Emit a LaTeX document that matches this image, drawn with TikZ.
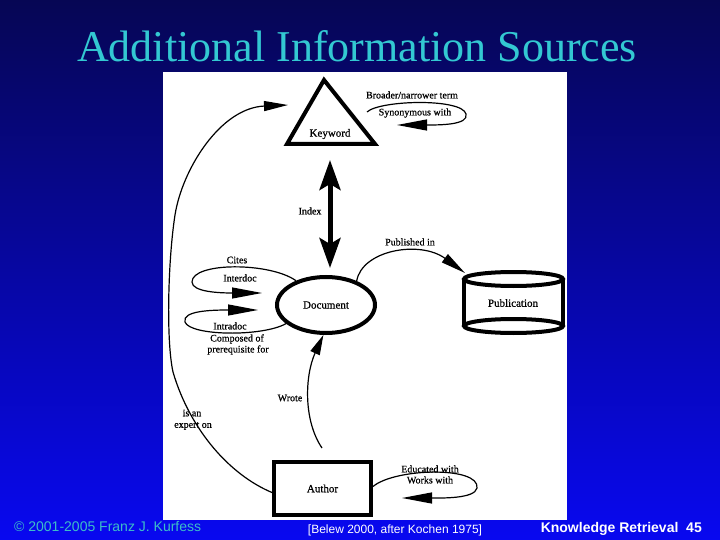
\documentclass[tikz,border=0pt]{standalone}
\usepackage{fontspec}
\setmainfont{Liberation Serif}
\newfontfamily\sansf{Liberation Sans}
\newfontfamily\lblf{Liberation Serif}[FakeBold=0.6]
\usetikzlibrary{arrows.meta,shapes.geometric}
\definecolor{bgtop}{RGB}{6,6,84}
\definecolor{bgbot}{RGB}{8,8,240}
\definecolor{titlecol}{RGB}{51,200,210}
\definecolor{copycol}{RGB}{60,190,200}
\begin{document}
\begin{tikzpicture}[x=1pt,y=-1pt,
  elbl/.style={font=\lblf\fontsize{10}{12}\selectfont, inner sep=0pt, text=black},
  nlbl/.style={font=\lblf\fontsize{11}{13}\selectfont, inner sep=0pt},
  conn/.style={line width=1.2pt, draw=black},
  heavy/.style={line width=4pt, draw=black},
  bigtip/.style={-{Triangle[length=30pt,width=11pt]}}
]
\useasboundingbox (0,0) rectangle (720,540);
\shade[top color=bgtop, bottom color=bgbot] (0,0) rectangle (720,540);
\fill[white] (163,72) rectangle (567,520);

% title
\node[anchor=base, text=titlecol, font=\fontsize{44}{50}\selectfont, inner sep=0pt] (title) at (357,62) {Additional Information Sources};

% keyword triangle
\draw[heavy, line join=miter] (324,80) -- (375,144) -- (287,144) -- cycle;
\node[nlbl] (keyword) at (330,134) {Keyword};

% document
\node[ellipse, heavy, minimum width=98pt, minimum height=56pt, nlbl] (doc) at (326,305) {Document};

% publication cylinder
\draw[heavy] (464,279) -- (464,326);
\draw[heavy] (563,279) -- (563,326);
\draw[heavy] (513.5,279) ellipse [x radius=49.5pt, y radius=7pt];
\draw[heavy] (513.5,326) ellipse [x radius=49.5pt, y radius=7pt];
\node[nlbl] (pub) at (513,303) {Publication};

% author
\node[rectangle, heavy, minimum width=97pt, minimum height=53pt, nlbl] (author) at (322.5,488.5) {Author};

% coordinates for free ends
\coordinate (idxtop) at (330,160);
\coordinate (idxbot) at (330,268);
\coordinate (kwin) at (288,105);
\coordinate (pubin) at (465,273);
\coordinate (citetip) at (262,293);
\coordinate (intratip) at (258,310);
\coordinate (wrstart) at (322,448);
\coordinate (edtip) at (402,498);
\coordinate (brstart) at (367,112);
\coordinate (brtip) at (397,125);

% index
\draw[line width=5pt, {Stealth[length=30pt,width=21pt,inset=6pt]}-{Stealth[length=30pt,width=21pt,inset=6pt]}] (idxtop) -- (idxbot);
\node[elbl] (index) at (310,211) {Index};

% is an expert on
\draw[conn, -{Triangle[length=24pt,width=10pt]}] ([yshift=-4pt]author.west) .. controls (230,475) and (190,430) .. (173,372) .. controls (166,340) and (168,260) .. (175,215) .. controls (182,170) and (220,108) .. (kwin);
\node[elbl] (isan) at (192,413) {is an};
\node[elbl] (experton) at (193,426) {expert on};

% published in
\draw[conn, -{Triangle[length=25pt,width=10pt]}] (doc.38) .. controls (362,250) and (420,240) .. (pubin);
\node[elbl] (publishedin) at (410,242) {Published in};

% cites / interdoc
\draw[conn, bigtip] (doc.141) .. controls (270,262) and (192,262) .. (192,282) .. controls (192,292) and (220,293) .. (citetip);
\node[elbl] (cites) at (237,260) {Cites};
\node[elbl] (interdoc) at (240,278) {Interdoc};

% intradoc
\draw[conn, bigtip] (doc.205) .. controls (262,337) and (190,336) .. (185,322) .. controls (182,311) and (210,310) .. (intratip);
\node[elbl] (intradoc) at (230,326) {Intradoc};
\node[elbl] (composed) at (237,339) {Composed of};
\node[elbl] (prereq) at (238,350) {prerequisite for};

% wrote
\draw[conn, -{Triangle[length=20pt,width=10pt]}] (wrstart) .. controls (303,420) and (305,375) .. (doc.265);
\node[elbl] (wrote) at (290,398) {Wrote};

% educated with
\draw[conn, bigtip] ([yshift=2pt]author.east) .. controls (395,468) and (480,466) .. (477,488) .. controls (475,499) and (440,498) .. (edtip);
\node[elbl] (educated) at (430,469) {Educated with};
\node[elbl] (works) at (430,480) {Works with};

% broader / narrower
\draw[conn, bigtip] (brstart) .. controls (380,100) and (462,98) .. (466,114) .. controls (469,125) and (440,125) .. (brtip);
\node[elbl] (broader) at (412,95) {Broader/narrower term};
\node[elbl] (synonym) at (415,113) {Synonymous with};

% footer
\node[anchor=base west, text=copycol, font=\sansf\fontsize{14}{16}\selectfont, inner sep=0pt] (copy) at (14,531) {© 2001-2005 Franz J. Kurfess};
\node[anchor=base, text=white, font=\sansf\fontsize{12}{14}\selectfont, inner sep=0pt] (source) at (395,533) {[Belew 2000, after Kochen 1975]};
\node[anchor=base east, text=white, font=\sansf\bfseries\fontsize{14}{16}\selectfont, inner sep=0pt] (slide) at (702,532) {Knowledge Retrieval\ \ 45};
\end{tikzpicture}
\end{document}
